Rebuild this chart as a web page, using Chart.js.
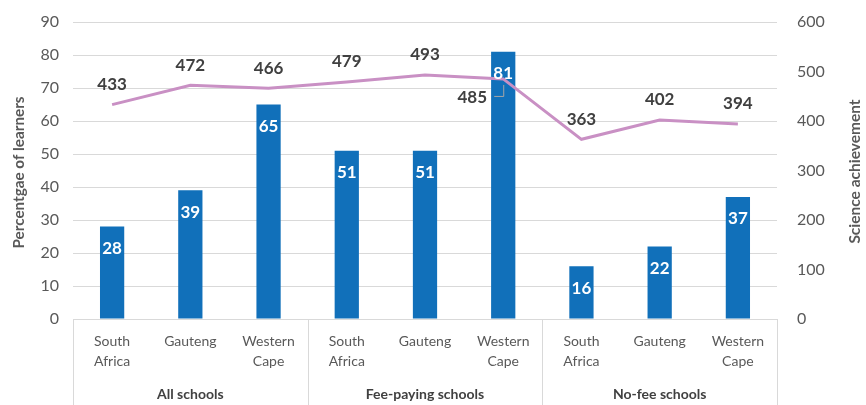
<!DOCTYPE html>
<html>
<head>
<meta charset="utf-8">
<script src="https://cdn.jsdelivr.net/npm/chart.js@4/dist/chart.umd.min.js"></script>
<style>
html,body{margin:0;padding:0;background:#fff;}
#wrap{width:866px;height:405px;position:relative;}
</style>
</head>
<body>
<div id="wrap"><canvas id="c" width="866" height="405"></canvas></div>
<script>
const categories = [["South","Africa"],"Gauteng",["Western","Cape"],["South","Africa"],"Gauteng",["Western","Cape"],["South","Africa"],"Gauteng",["Western","Cape"]];
const groups = ["All schools","Fee-paying schools","No-fee schools"];
const percentLearners = [28,39,65,51,51,81,16,22,37];
const scienceAchievement = [433,472,466,479,493,485,363,402,394];
const leftTicks = [0,10,20,30,40,50,60,70,80,90];
const rightTicks = [0,100,200,300,400,500,600];
const leftTitle = 'Percentgae of learners';
const rightTitle = 'Science achievement';

const FONT = "Lato, 'Open Sans', sans-serif";
const GRAY = '#595959';
const DARK = '#404040';

const labelPlugin = {
  id: 'labels',
  afterDatasetsDraw(chart) {
    const ctx = chart.ctx;
    ctx.save();
    ctx.textAlign = 'center';
    ctx.textBaseline = 'middle';
    const bm = chart.getDatasetMeta(1);
    bm.data.forEach((el, i) => {
      ctx.font = 'bold 17px ' + FONT;
      ctx.fillStyle = '#ffffff';
      ctx.fillText(String(chart.data.datasets[1].data[i]), el.x, el.y + 22);
    });
    const lm = chart.getDatasetMeta(0);
    lm.data.forEach((el, i) => {
      ctx.font = 'bold 17px ' + FONT;
      ctx.fillStyle = DARK;
      const v = String(chart.data.datasets[0].data[i]);
      if (i === 5) {
        const tx = el.x - 31, ty = el.y + 19;
        ctx.fillText(v, tx, ty);
        ctx.strokeStyle = '#a6a6a6';
        ctx.lineWidth = 1;
        ctx.beginPath();
        ctx.moveTo(el.x - 9, ty - 1.5);
        ctx.lineTo(el.x + 0.5, ty - 1.5);
        ctx.lineTo(el.x + 0.5, el.y + 6);
        ctx.stroke();
      } else {
        ctx.fillText(v, el.x, el.y - 20);
      }
    });
    ctx.restore();
  }
};

function drawTitle(ctx, text, x, y, maxLen) {
  ctx.save();
  ctx.translate(x, y);
  ctx.rotate(-Math.PI / 2);
  ctx.font = 'bold 15.5px ' + FONT;
  ctx.fillStyle = GRAY;
  ctx.textAlign = 'center';
  ctx.textBaseline = 'middle';
  const w = ctx.measureText(text).width;
  if (w > maxLen) ctx.scale(maxLen / w, 1);
  ctx.fillText(text, 0, 0);
  ctx.restore();
}

const groupPlugin = {
  id: 'groups',
  afterDraw(chart) {
    const ctx = chart.ctx;
    const area = chart.chartArea;
    const n = categories.length;
    const per = n / groups.length;
    ctx.save();
    ctx.strokeStyle = '#d9d9d9';
    ctx.lineWidth = 1;
    ctx.beginPath();
    ctx.moveTo(area.left, Math.round(area.bottom) + 0.5);
    ctx.lineTo(area.right, Math.round(area.bottom) + 0.5);
    const step = (area.right - area.left) / n;
    for (let g = 0; g <= groups.length; g++) {
      const x = Math.round(area.left + g * per * step) + 0.5;
      ctx.moveTo(x, area.bottom);
      ctx.lineTo(x, chart.height);
    }
    ctx.stroke();
    ctx.font = 'bold 14px ' + FONT;
    ctx.fillStyle = DARK;
    ctx.textAlign = 'center';
    ctx.textBaseline = 'middle';
    groups.forEach((g, i) => {
      const cx = area.left + (i + 0.5) * per * step;
      ctx.fillText(g, cx, 394);
    });
    ctx.restore();
    const midY = (area.top + area.bottom) / 2 + 2;
    drawTitle(ctx, leftTitle, 18.5, midY, 152);
    drawTitle(ctx, rightTitle, 855, midY - 1, 166);
  }
};

function noPadV(s) { s.paddingTop = 0; s.paddingBottom = 0; }

new Chart(document.getElementById('c'), {
  data: {
    labels: categories,
    datasets: [
      {
        type: 'line',
        label: rightTitle,
        data: scienceAchievement,
        yAxisID: 'y1',
        borderColor: '#C990C4',
        backgroundColor: '#C990C4',
        borderWidth: 3,
        pointRadius: 0,
        tension: 0,
        order: 0
      },
      {
        type: 'bar',
        label: leftTitle,
        data: percentLearners,
        yAxisID: 'y',
        backgroundColor: '#1170BA',
        barPercentage: 0.31,
        categoryPercentage: 1.0,
        order: 1
      }
    ]
  },
  options: {
    responsive: false,
    animation: false,
    layout: { padding: { top: 22, left: 0, right: 0, bottom: 0 } },
    plugins: { legend: { display: false }, tooltip: { enabled: false } },
    scales: {
      x: {
        grid: { display: false, drawTicks: false },
        border: { display: false },
        ticks: { color: GRAY, font: { family: FONT, size: 14, lineHeight: 1.45 }, padding: 12, maxRotation: 0, autoSkip: false },
        afterFit(s) { s.height = 86; s.paddingLeft = 0; s.paddingRight = 0; }
      },
      y: {
        position: 'left',
        min: 0, max: 90,
        afterBuildTicks(s) { s.ticks = leftTicks.map(v => ({ value: v })); },
        grid: { color: '#d9d9d9', drawTicks: false },
        border: { display: false },
        ticks: { color: GRAY, font: { family: FONT, size: 16 }, padding: 14 },
        afterFit(s) { s.width = 73; noPadV(s); }
      },
      y1: {
        position: 'right',
        min: 0, max: 600,
        afterBuildTicks(s) { s.ticks = rightTicks.map(v => ({ value: v })); },
        grid: { display: false, drawTicks: false },
        border: { display: false },
        ticks: { color: GRAY, font: { family: FONT, size: 16 }, padding: 20 },
        afterFit(s) { s.width = 89; noPadV(s); }
      }
    }
  },
  plugins: [labelPlugin, groupPlugin]
});
</script>
</body>
</html>
